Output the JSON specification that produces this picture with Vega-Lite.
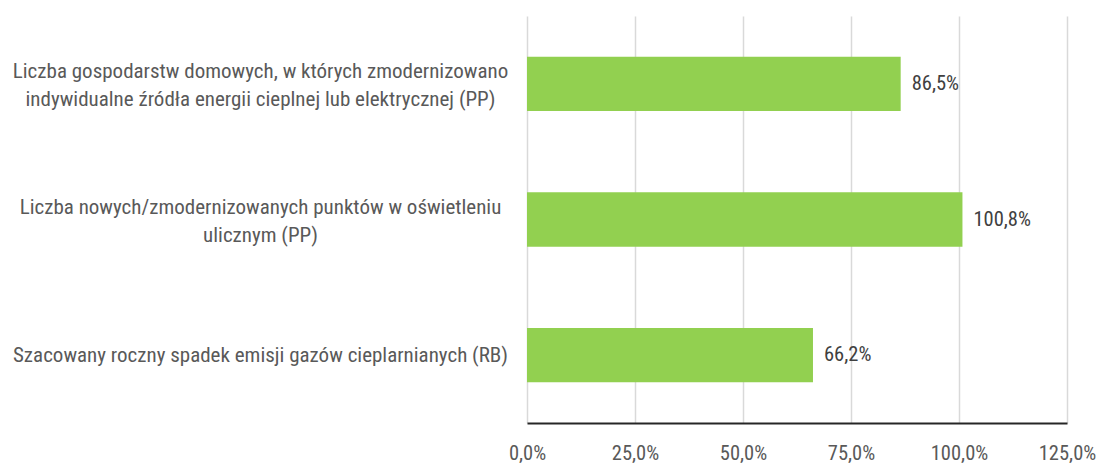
{
  "$schema": "https://vega.github.io/schema/vega-lite/v6.json",
  "autosize": "none",
  "width": 540,
  "height": 407,
  "padding": {"left": 527, "top": 16, "right": 33, "bottom": 42},
  "background": "white",
  "config": {
    "locale": {"number": {"decimal": ",", "thousands": " ", "grouping": [3], "currency": ["", " zł"]}},
    "view": {"stroke": null},
    "font": "Roboto Condensed, Liberation Sans Narrow, Roboto"
  },
  "data": {
    "values": [
      {"label": "Liczba gospodarstw domowych, w których zmodernizowano|indywidualne źródła energii cieplnej lub elektrycznej (PP)", "value": 0.865, "order": 1},
      {"label": "Liczba nowych/zmodernizowanych punktów w oświetleniu|ulicznym (PP)", "value": 1.008, "order": 2},
      {"label": "Szacowany roczny spadek emisji gazów cieplarnianych (RB)", "value": 0.662, "order": 3}
    ]
  },
  "encoding": {
    "y": {
      "field": "label",
      "type": "nominal",
      "sort": {"field": "order"},
      "title": null,
      "scale": {"paddingInner": 0.6, "paddingOuter": 0.3},
      "axis": {
        "domain": false,
        "ticks": false,
        "labelAlign": "center",
        "labelPadding": 267,
        "labelLimit": 0,
        "labelFontSize": 21,
        "labelColor": "#595959",
        "labelLineHeight": 28,
        "labelOffset": {"condition": {"test": "indexof(datum.value, '|') >= 0", "value": -12}, "value": 1},
        "labelFont": "Roboto Condensed, Liberation Sans Narrow, Roboto",
        "labelExpr": "split(datum.value, '|')"
      }
    },
    "x": {
      "field": "value",
      "type": "quantitative",
      "title": null,
      "scale": {"domain": [0, 1.25], "nice": false},
      "axis": {
        "values": [0, 0.25, 0.5, 0.75, 1, 1.25],
        "format": ".1%",
        "grid": true,
        "gridColor": "#d9d9d9",
        "gridWidth": 1.5,
        "ticks": false,
        "domainColor": "#262626",
        "domainWidth": 2,
        "labelPadding": 20,
        "labelFontSize": 20.5,
        "labelColor": "#595959",
        "labelFont": "Roboto Condensed, Liberation Sans Narrow, Roboto",
        "labelFlush": false
      }
    }
  },
  "layer": [
    {"mark": {"type": "bar", "color": "#92d050"}},
    {
      "mark": {"type": "text", "align": "left", "dx": 11, "fontSize": 20.5, "color": "#404040", "font": "Roboto Condensed, Liberation Sans Narrow, Roboto"},
      "encoding": {"text": {"field": "value", "type": "quantitative", "format": ".1%"}}
    }
  ]
}
